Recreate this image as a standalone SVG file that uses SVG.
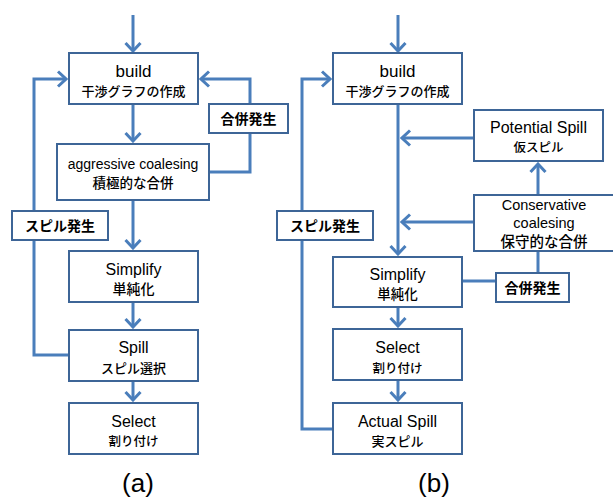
<svg xmlns="http://www.w3.org/2000/svg" width="613" height="498" viewBox="0 0 613 498">
  <style>
    .box { fill: #ffffff; stroke: #3D6597; stroke-width: 2; }
    .wire { fill: none; stroke: #4A7EBB; stroke-width: 3; }
    .arrow { marker-end: url(#chev); }
    text { fill: #000000; text-anchor: middle; }
    .en { font-family: "Liberation Sans", Arial, sans-serif; }
    .jp { font-family: "Noto Sans CJK JP", "Noto Sans CJK SC", sans-serif; font-weight: 500; }
    .lbl { font-family: "Noto Sans CJK JP", "Noto Sans CJK SC", sans-serif; font-weight: 700; font-size: 14px; }
    .cap { font-family: "Liberation Sans", Arial, sans-serif; font-size: 26px; }
  </style>
  <defs>
    <marker id="chev" viewBox="-12 -10 14 20" refX="0" refY="0" markerWidth="14" markerHeight="20" orient="auto" markerUnits="userSpaceOnUse">
      <path d="M-8,-7.5 L0,0 L-8,7.5" fill="none" stroke="#4A7EBB" stroke-width="3"/>
    </marker>
  </defs>

  <!-- connectors -->
  <g id="connectors">
    <!-- panel (a) -->
    <line class="wire arrow" x1="133" y1="15" x2="133" y2="51"/>
    <line class="wire arrow" x1="133" y1="104" x2="133" y2="141"/>
    <line class="wire arrow" x1="133" y1="200" x2="133" y2="248"/>
    <line class="wire arrow" x1="133" y1="302" x2="133" y2="327"/>
    <line class="wire arrow" x1="133" y1="381" x2="133" y2="400"/>
    <polyline class="wire arrow" points="209,172 250,172 250,79 201,79"/>
    <polyline class="wire arrow" points="69,355 34,355 34,79 66,79"/>
    <!-- panel (b) -->
    <line class="wire arrow" x1="398" y1="15" x2="398" y2="51"/>
    <line class="wire arrow" x1="398" y1="104" x2="398" y2="254"/>
    <line class="wire arrow" x1="398" y1="307" x2="398" y2="326"/>
    <line class="wire arrow" x1="398" y1="380" x2="398" y2="400"/>
    <line class="wire arrow" x1="474" y1="138" x2="402" y2="138"/>
    <line class="wire arrow" x1="474" y1="222" x2="402" y2="222"/>
    <line class="wire arrow" x1="538" y1="195" x2="538" y2="164"/>
    <polyline class="wire" points="538,251 538,281 462,281"/>
    <polyline class="wire arrow" points="333,429 302,429 302,79 330,79"/>
  </g>

  <!-- panel (a) nodes -->
  <g id="a-build">
    <rect class="box" x="69" y="53" width="129" height="51"/>
    <text class="en" x="133.5" y="77" font-size="17">build</text>
    <text class="jp" x="133.5" y="96" font-size="13">干渉グラフの作成</text>
  </g>
  <g id="a-coalesce">
    <rect class="box" x="57" y="144" width="152" height="56"/>
    <text class="en" x="133" y="169" font-size="14">aggressive coalesing</text>
    <text class="jp" x="133" y="188" font-size="13.5">積極的な合併</text>
  </g>
  <g id="a-merge-label">
    <rect class="box" x="209" y="104" width="79" height="29"/>
    <text class="lbl" x="248.5" y="124">合併発生</text>
  </g>
  <g id="a-spill-label">
    <rect class="box" x="12" y="211" width="96" height="29"/>
    <text class="lbl" x="60" y="231">スピル発生</text>
  </g>
  <g id="a-simplify">
    <rect class="box" x="69" y="251" width="129" height="51"/>
    <text class="en" x="133.5" y="275" font-size="16">Simplify</text>
    <text class="jp" x="133.5" y="294" font-size="14">単純化</text>
  </g>
  <g id="a-spill">
    <rect class="box" x="69" y="330" width="129" height="51"/>
    <text class="en" x="133.5" y="353" font-size="16">Spill</text>
    <text class="jp" x="133.5" y="373" font-size="13">スピル選択</text>
  </g>
  <g id="a-select">
    <rect class="box" x="69" y="403" width="129" height="51"/>
    <text class="en" x="133.5" y="427" font-size="16">Select</text>
    <text class="jp" x="133.5" y="446" font-size="12.5">割り付け</text>
  </g>
  <text class="cap" x="138" y="492">(a)</text>

  <!-- panel (b) nodes -->
  <g id="b-build">
    <rect class="box" x="333" y="53" width="129" height="51"/>
    <text class="en" x="397.5" y="77" font-size="17">build</text>
    <text class="jp" x="397.5" y="96" font-size="13">干渉グラフの作成</text>
  </g>
  <g id="b-potential-spill">
    <rect class="box" x="474" y="110" width="129" height="51"/>
    <text class="en" x="538.5" y="133" font-size="16">Potential Spill</text>
    <text class="jp" x="538.5" y="152" font-size="12.5">仮スピル</text>
  </g>
  <g id="b-conservative">
    <rect class="box" x="474" y="195" width="142" height="56"/>
    <text class="en" x="544" y="210" font-size="14.5">Conservative</text>
    <text class="en" x="544" y="228" font-size="14.5">coalesing</text>
    <text class="jp" x="544" y="247" font-size="14.5">保守的な合併</text>
  </g>
  <g id="b-merge-label">
    <rect class="box" x="496" y="273" width="73" height="29"/>
    <text class="lbl" x="532.5" y="293" font-size="13">合併発生</text>
  </g>
  <g id="b-spill-label">
    <rect class="box" x="277" y="211" width="96" height="29"/>
    <text class="lbl" x="325" y="231">スピル発生</text>
  </g>
  <g id="b-simplify">
    <rect class="box" x="333" y="257" width="129" height="50"/>
    <text class="en" x="397.5" y="280" font-size="16">Simplify</text>
    <text class="jp" x="397.5" y="299" font-size="13.5">単純化</text>
  </g>
  <g id="b-select">
    <rect class="box" x="333" y="329" width="129" height="51"/>
    <text class="en" x="397.5" y="353" font-size="16">Select</text>
    <text class="jp" x="397.5" y="373" font-size="12.5">割り付け</text>
  </g>
  <g id="b-actual-spill">
    <rect class="box" x="333" y="403" width="129" height="51"/>
    <text class="en" x="397.5" y="427" font-size="16">Actual Spill</text>
    <text class="jp" x="397.5" y="446" font-size="13">実スピル</text>
  </g>
  <text class="cap" x="434" y="492">(b)</text>
</svg>
